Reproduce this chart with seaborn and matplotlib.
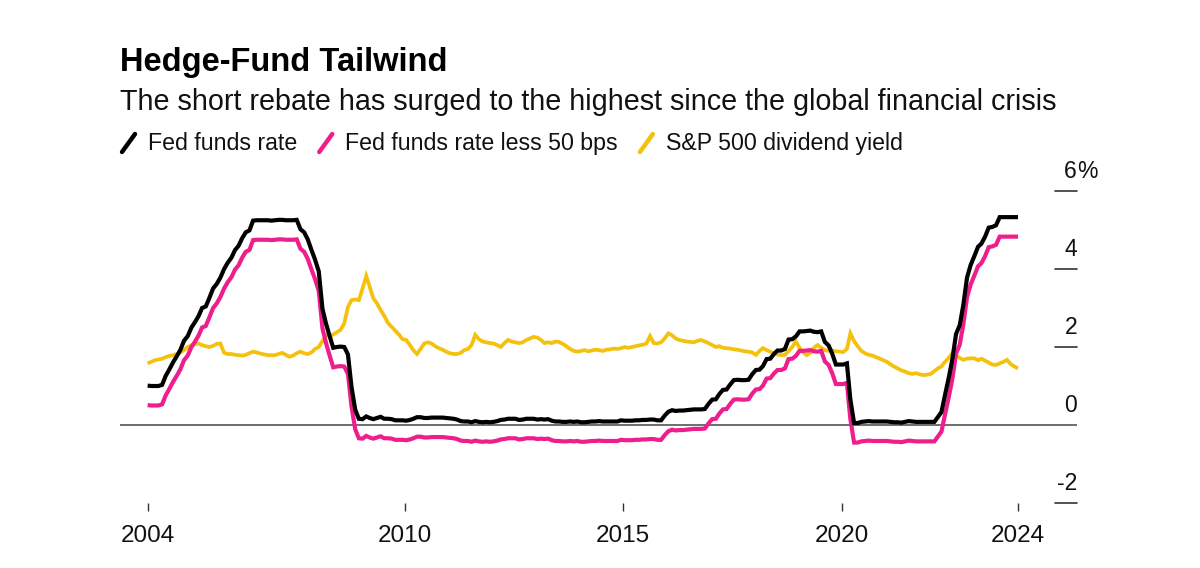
import numpy as np
import pandas as pd
import matplotlib.pyplot as plt
import seaborn as sns
from matplotlib.lines import Line2D

# Datos mensuales, feb 2004 - ene 2024
fed_funds = [
    1.01, 1.00, 1.00, 1.00, 1.03, 1.26, 1.43, 1.61, 1.76, 1.93, 2.16,
    2.28, 2.50, 2.63, 2.79, 3.00, 3.04, 3.26, 3.50, 3.62, 3.78, 4.00, 4.16,
    4.29, 4.49, 4.59, 4.79, 4.94, 4.99, 5.24, 5.25, 5.25, 5.25, 5.25, 5.24,
    5.25, 5.26, 5.26, 5.25, 5.25, 5.25, 5.26, 5.02, 4.94, 4.76, 4.49, 4.24,
    3.94, 2.98, 2.61, 2.28, 1.98, 2.00, 2.01, 2.00, 1.81, 0.97, 0.39, 0.16,
    0.15, 0.22, 0.18, 0.15, 0.18, 0.21, 0.16, 0.16, 0.15, 0.12, 0.12, 0.12,
    0.11, 0.13, 0.16, 0.20, 0.20, 0.18, 0.18, 0.19, 0.19, 0.19, 0.19, 0.18,
    0.17, 0.16, 0.14, 0.10, 0.09, 0.09, 0.07, 0.10, 0.08, 0.07, 0.08, 0.07,
    0.08, 0.10, 0.13, 0.14, 0.16, 0.16, 0.16, 0.13, 0.14, 0.16, 0.16, 0.16,
    0.14, 0.15, 0.14, 0.15, 0.11, 0.09, 0.09, 0.08, 0.08, 0.09, 0.08, 0.09,
    0.07, 0.07, 0.08, 0.09, 0.09, 0.10, 0.09, 0.09, 0.09, 0.09, 0.09, 0.12,
    0.11, 0.11, 0.11, 0.12, 0.12, 0.13, 0.13, 0.14, 0.14, 0.12, 0.12, 0.24,
    0.34, 0.38, 0.36, 0.37, 0.37, 0.38, 0.39, 0.40, 0.40, 0.40, 0.41, 0.54,
    0.65, 0.66, 0.79, 0.90, 0.91, 1.04, 1.15, 1.16, 1.15, 1.15, 1.16, 1.30,
    1.41, 1.42, 1.51, 1.69, 1.70, 1.82, 1.91, 1.91, 1.95, 2.19, 2.20, 2.27,
    2.40, 2.40, 2.41, 2.42, 2.39, 2.38, 2.40, 2.13, 2.04, 1.83, 1.55, 1.55,
    1.55, 1.58, 0.65, 0.05, 0.05, 0.08, 0.09, 0.10, 0.09, 0.09, 0.09, 0.09,
    0.09, 0.08, 0.07, 0.07, 0.06, 0.08, 0.10, 0.09, 0.08, 0.08, 0.08, 0.08,
    0.08, 0.08, 0.20, 0.33, 0.77, 1.21, 1.68, 2.33, 2.56, 3.08, 3.78, 4.10,
    4.33, 4.57, 4.65, 4.83, 5.06, 5.08, 5.12, 5.33, 5.33, 5.33, 5.33, 5.33,
    5.33,
]
div_yield = [
    1.58, 1.62, 1.66, 1.68, 1.70, 1.74, 1.77, 1.79, 1.82, 1.86, 1.92,
    2.00, 2.04, 2.07, 2.09, 2.05, 2.02, 2.00, 2.03, 2.08, 2.09, 1.85, 1.82,
    1.82, 1.80, 1.79, 1.78, 1.80, 1.84, 1.88, 1.86, 1.83, 1.81, 1.79, 1.79,
    1.79, 1.82, 1.85, 1.80, 1.75, 1.78, 1.84, 1.88, 1.84, 1.82, 1.86, 1.95,
    2.00, 2.15, 2.30, 2.28, 2.32, 2.38, 2.44, 2.60, 3.03, 3.20, 3.22, 3.20,
    3.50, 3.82, 3.55, 3.25, 3.12, 2.95, 2.80, 2.62, 2.52, 2.42, 2.32, 2.20,
    2.18, 2.05, 1.92, 1.82, 1.95, 2.09, 2.12, 2.09, 2.02, 1.97, 1.93, 1.88,
    1.84, 1.82, 1.82, 1.85, 1.92, 1.95, 2.05, 2.31, 2.20, 2.14, 2.12, 2.10,
    2.09, 2.05, 2.00, 2.10, 2.18, 2.14, 2.12, 2.10, 2.12, 2.18, 2.22, 2.26,
    2.24, 2.18, 2.10, 2.12, 2.10, 2.14, 2.13, 2.08, 2.02, 1.95, 1.90, 1.88,
    1.90, 1.92, 1.89, 1.91, 1.93, 1.92, 1.90, 1.93, 1.94, 1.96, 1.95, 1.97,
    2.00, 1.98, 2.00, 2.02, 2.04, 2.06, 2.09, 2.28, 2.10, 2.09, 2.12, 2.22,
    2.35, 2.30, 2.22, 2.18, 2.16, 2.14, 2.13, 2.12, 2.16, 2.18, 2.14, 2.10,
    2.05, 2.00, 2.02, 1.98, 1.97, 1.96, 1.94, 1.93, 1.91, 1.89, 1.88, 1.86,
    1.80, 1.90, 1.97, 1.92, 1.88, 1.84, 1.81, 1.79, 1.80, 1.90, 2.00, 2.14,
    1.98, 1.86, 1.79, 1.85, 1.98, 2.05, 1.98, 1.92, 1.90, 1.91, 1.89, 1.88,
    1.87, 1.95, 2.35, 2.15, 2.02, 1.90, 1.84, 1.80, 1.78, 1.74, 1.70, 1.66,
    1.62, 1.55, 1.50, 1.45, 1.40, 1.37, 1.33, 1.31, 1.33, 1.30, 1.28, 1.29,
    1.31, 1.38, 1.45, 1.50, 1.62, 1.72, 1.84, 1.78, 1.72, 1.67, 1.70, 1.71,
    1.71, 1.66, 1.70, 1.65, 1.60, 1.55, 1.54, 1.58, 1.62, 1.67, 1.56, 1.50,
    1.45,
]
fed_less_50 = [v - 0.5 for v in fed_funds]

series_names = ['Fed funds rate', 'Fed funds rate less 50 bps', 'S&P 500 dividend yield']
colors = ['#000000', '#ee1e8c', '#f4c20d']
y_ticks = [-2, 0, 2, 4, 6]
x_tick_labels = ['2004', '2010', '2015', '2020', '2024']

dates = pd.date_range('2004-02-01', periods=len(fed_funds), freq='MS') + pd.Timedelta(days=14)
df = pd.DataFrame({'Fecha': dates,
                   series_names[0]: fed_funds,
                   series_names[1]: fed_less_50,
                   series_names[2]: div_yield})
long = df.melt(id_vars='Fecha', var_name='Serie', value_name='Valor')

sns.set_style('white')
plt.rcParams['font.family'] = ['Liberation Sans', 'DejaVu Sans']

W, H = 1200, 568
fig = plt.figure(figsize=(W / 100, H / 100), dpi=100)
ax = fig.add_axes([120 / W, 1 - 503 / H, (1077 - 120) / W, (503 - 191) / H])

# Amarillo abajo, negro arriba
draw_order = [2, 1, 0]
widths = {0: 3.0, 1: 3.0, 2: 2.7}
for i in draw_order:
    sub = long[long['Serie'] == series_names[i]]
    sns.lineplot(data=sub, x='Fecha', y='Valor', color=colors[i], lw=widths[i],
                 ax=ax, legend=False, solid_capstyle='butt', solid_joinstyle='miter')

ax.axhline(0, color='#555555', lw=1.2, zorder=0)
ax.set_ylim(-2, 6)
ax.set_xlim(pd.Timestamp('2003-06-29'), pd.Timestamp('2025-05-22'))
ax.set_xlabel('')
ax.set_ylabel('')
ax.set_yticks([])
for s in ax.spines.values():
    s.set_visible(False)

x_ticks = [dates[0], pd.Timestamp('2010-01-01'), pd.Timestamp('2015-01-01'),
           pd.Timestamp('2020-01-01'), dates[-1]]
ax.set_xticks(x_ticks)
ax.set_xticklabels(x_tick_labels)
ax.tick_params(axis='x', length=6, width=1, color='#333333', pad=10,
               labelsize=17.5, labelcolor='#111111', bottom=True)

# Eje derecho al estilo Bloomberg
ytrans = ax.get_yaxis_transform()
for v in y_ticks:
    if v != 0:
        ax.plot([0.977, 1.0], [v, v], transform=ytrans, color='#333333', lw=1.2, clip_on=False)
    ax.annotate(str(v), xy=(1.0, v), xycoords=ytrans, xytext=(0, 14), textcoords='offset points',
                ha='right', va='center', fontsize=16.5, color='#111111')
    if v == 6:
        ax.annotate('%', xy=(1.0, v), xycoords=ytrans, xytext=(0, 14), textcoords='offset points',
                    ha='left', va='center', fontsize=16.5, color='#111111')

# Títulos
fig.text(120 / W, 1 - 62 / H, 'Hedge-Fund Tailwind', fontsize=23.5, fontweight='bold',
         ha='left', va='center', color='#000000')
fig.text(120 / W, 1 - 102 / H,
         'The short rebate has surged to the highest since the global financial crisis',
         fontsize=20.7, ha='left', va='center', color='#111111')

# Leyenda manual
renderer = fig.canvas.get_renderer()
x = 122
for i in range(3):
    fig.add_artist(Line2D([x / W, (x + 13) / W], [1 - 152 / H, 1 - 134 / H],
                          transform=fig.transFigure, color=colors[i], lw=3.2))
    t = fig.text((x + 26) / W, 1 - 143 / H, series_names[i], fontsize=16.7,
                 ha='left', va='center', color='#111111')
    bb = t.get_window_extent(renderer)
    x = bb.x1 + 22

fig.savefig('out.png', dpi=100, facecolor='white')
